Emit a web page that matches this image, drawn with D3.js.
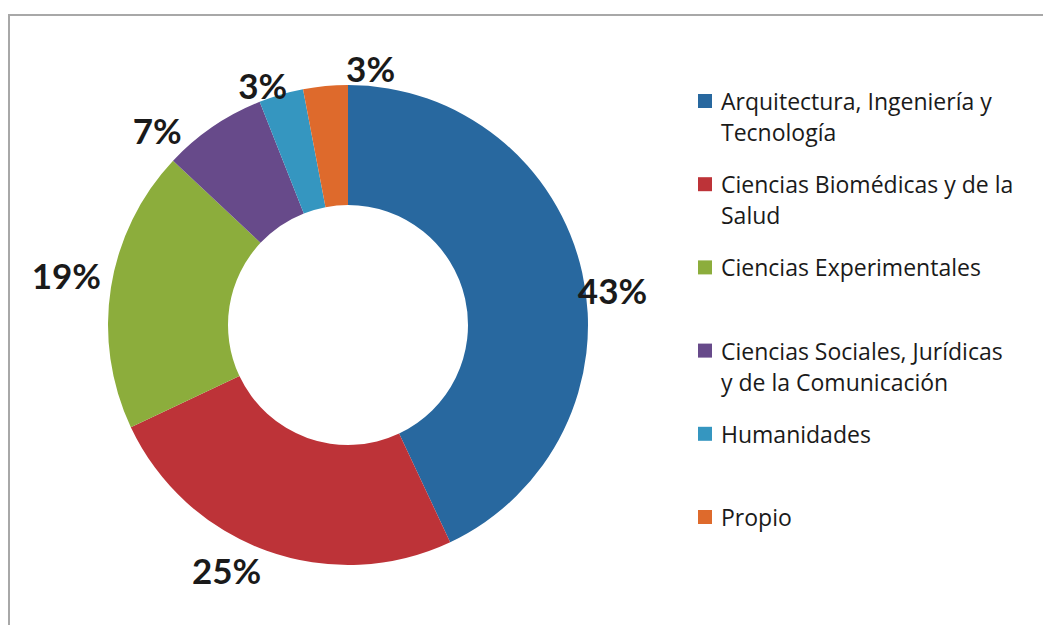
<!DOCTYPE html>
<html>
<head>
<meta charset="utf-8">
<script src="https://cdn.jsdelivr.net/npm/d3@7"></script>
<style>
  html, body { margin: 0; padding: 0; background: #fff; }
  svg { display: block; }
</style>
</head>
<body>
<svg id="chart" width="1043" height="625"></svg>
<script>
// datos del gráfico
const categories = [
  "Arquitectura, Ingeniería y Tecnología",
  "Ciencias Biomédicas y de la Salud",
  "Ciencias Experimentales",
  "Ciencias Sociales, Jurídicas y de la Comunicación",
  "Humanidades",
  "Propio"
];
const values = [43, 25, 19, 7, 3, 3];
// líneas de la leyenda (tal como se parten en la imagen)
const legendLines = [
  ["Arquitectura, Ingeniería y", "Tecnología"],
  ["Ciencias Biomédicas y de la", "Salud"],
  ["Ciencias Experimentales"],
  ["Ciencias Sociales, Jurídicas", "y de la Comunicación"],
  ["Humanidades"],
  ["Propio"]
];
const colors = ["#28689f", "#bd3338", "#8cad3c", "#674a8a", "#3596c0", "#de6a2c"];
// pequeños ajustes de posición de las etiquetas
const labelNudge = [[1, 24], [-30, -9], [-15, -8], [-39, 28], [-10, 19], [48, 12]];

const svg = d3.select("#chart");
const cx = 348, cy = 325;
const outerR = 240, innerR = 120;

// marco del gráfico (escaneado)
svg.append("path")
  .attr("d", "M9,625 L9,15 L1043,15")
  .attr("fill", "none")
  .attr("stroke", "#a8a8a8")
  .attr("stroke-width", 2);

const pie = d3.pie().sort(null).value(d => d);
const arcs = pie(values);
const arc = d3.arc().innerRadius(innerR).outerRadius(outerR);

const g = svg.append("g").attr("transform", `translate(${cx},${cy})`);

g.selectAll(".slice")
  .data(arcs)
  .enter()
  .append("path")
  .attr("class", "slice")
  .attr("d", arc)
  .attr("fill", (d, i) => colors[i]);

// etiquetas de porcentaje
const labelArc = d3.arc().innerRadius(outerR + 30).outerRadius(outerR + 30);
g.selectAll(".lbl")
  .data(arcs)
  .enter()
  .append("text")
  .attr("class", "lbl")
  .attr("x", (d, i) => labelArc.centroid(d)[0] + labelNudge[i][0])
  .attr("y", (d, i) => labelArc.centroid(d)[1] + labelNudge[i][1])
  .attr("text-anchor", "middle")
  .attr("dominant-baseline", "central")
  .style("font-family", "Lato, 'Open Sans', sans-serif")
  .style("font-weight", "bold")
  .style("font-size", "35px")
  .style("fill", "#1a1a1a")
  .text(d => d.data + "%");

// leyenda
const legendY = d3.scalePoint().domain(d3.range(categories.length)).range([101, 517]);
const legend = svg.append("g");
const items = legend.selectAll(".item")
  .data(categories)
  .enter()
  .append("g")
  .attr("class", "item")
  .attr("transform", (d, i) => `translate(698,${legendY(i)})`);

items.append("rect")
  .attr("x", 0)
  .attr("y", -7)
  .attr("width", 14)
  .attr("height", 14)
  .attr("fill", (d, i) => colors[i]);

items.each(function (d, i) {
  const t = d3.select(this).append("text")
    .attr("x", 23)
    .attr("y", 0)
    .style("font-family", "'Open Sans', Lato, sans-serif")
    .style("font-size", "23px")
    .style("fill", "#1a1a1a");
  legendLines[i].forEach((line, j) => {
    t.append("tspan")
      .attr("x", 23)
      .attr("y", j * 31)
      .attr("dominant-baseline", "central")
      .text(line);
  });
});
</script>
</body>
</html>
